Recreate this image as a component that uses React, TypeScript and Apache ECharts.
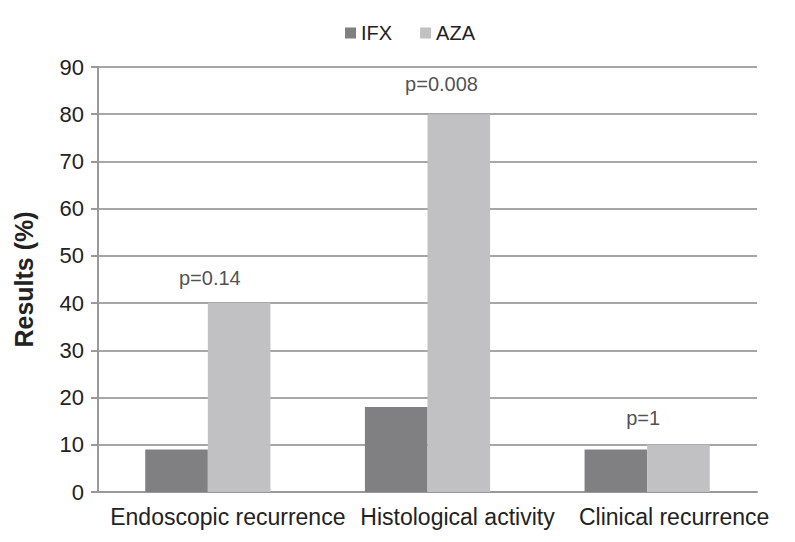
import React, { useEffect, useRef } from "react";
import * as echarts from "echarts";

const categories = ["Endoscopic recurrence", "Histological activity", "Clinical recurrence"];
const ifxValues = [9, 18, 9];
const azaValues = [40, 80, 10];
const pLabels = ["p=0.14", "p=0.008", "p=1"];
const pLabelHeights = [45.3, 86.4, 15.6];
const yTicks = [0, 10, 20, 30, 40, 50, 60, 70, 80, 90];

const FONT = "'Liberation Sans', Arial, Helvetica, sans-serif";
const pOffsets = [[2, 0], [14, 0], [-4, 0]];
const catShift = [40, 60, 54];

export default function App() {
  const ref = useRef<HTMLDivElement>(null);
  useEffect(() => {
    if (!ref.current) return;
    const chart = echarts.init(ref.current, null, { renderer: "svg" });
    const rich: any = {};
    catShift.forEach((s, i) => {
      rich["c" + i] = { fontSize: 23, color: "#222", fontFamily: FONT, padding: [0, 0, 0, s] };
    });
    chart.setOption({
      animation: false,
      backgroundColor: "#ffffff",
      textStyle: { fontFamily: FONT },
      legend: {
        top: 18,
        left: 340,
        itemWidth: 11,
        itemHeight: 11,
        itemGap: 28,
        icon: "rect",
        textStyle: { fontSize: 20, color: "#222", fontFamily: FONT, padding: [0, 0, 0, 0] },
        data: ["IFX", "AZA"],
      },
      grid: { left: 98, right: 38, top: 67, bottom: 50, containLabel: false },
      xAxis: {
        type: "category",
        data: categories,
        axisLine: { lineStyle: { color: "#999", width: 2 } },
        axisTick: { show: false },
        axisLabel: {
          fontSize: 23,
          color: "#222",
          margin: 13,
          fontFamily: FONT,
          interval: 0,
          formatter: (v: string, i: number) => `{c${i}|${v}}`,
          rich,
        },
      },
      yAxis: {
        type: "value",
        min: yTicks[0],
        max: yTicks[yTicks.length - 1],
        interval: 10,
        name: "Results (%)",
        nameLocation: "middle",
        nameGap: 62,
        nameTextStyle: { fontSize: 25, fontWeight: "bold", color: "#222", fontFamily: FONT },
        axisLine: { show: true, lineStyle: { color: "#999", width: 2 } },
        axisTick: { show: true, length: 7, lineStyle: { color: "#999", width: 2 } },
        axisLabel: { fontSize: 22, color: "#222", margin: 14, fontFamily: FONT },
        splitLine: { lineStyle: { color: "#a6a6a6", width: 2 } },
      },
      series: [
        {
          name: "IFX",
          type: "bar",
          data: ifxValues,
          barGap: "0%",
          barCategoryGap: "43%",
          itemStyle: { color: "#808082" },
        },
        {
          name: "AZA",
          type: "bar",
          data: azaValues,
          barCategoryGap: "43%",
          itemStyle: { color: "#c1c1c3" },
        },
        {
          name: "p",
          type: "scatter",
          data: pLabelHeights.map((v, i) => ({ value: v, label: { offset: pOffsets[i] } })),
          symbolSize: 0,
          silent: true,
          label: {
            show: true,
            position: "inside",
            fontSize: 20,
            color: "#222",
            fontFamily: FONT,
            formatter: (p: any) => pLabels[p.dataIndex],
          },
        },
      ],
    });
    return () => chart.dispose();
  }, []);
  return <div ref={ref} style={{ width: 795, height: 542, position: "absolute", left: 0, top: 0 }} />;
}
